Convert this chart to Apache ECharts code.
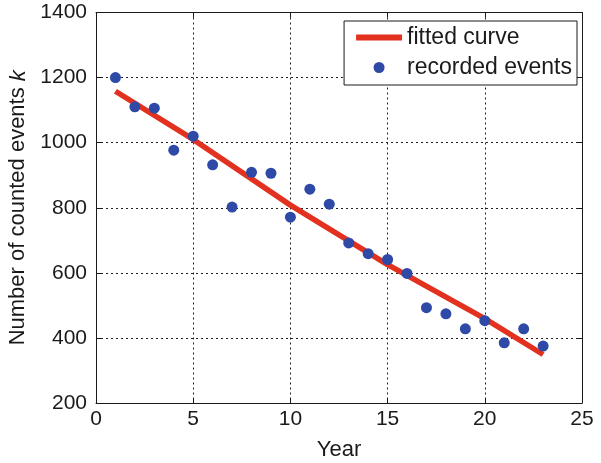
<!DOCTYPE html>
<html>
<head>
<meta charset="utf-8">
<script src="https://cdn.jsdelivr.net/npm/echarts@6/dist/echarts.min.js"></script>
<style>
  html, body { margin: 0; padding: 0; background: #fff; }
  #chart { width: 601px; height: 463px; }
</style>
</head>
<body>
<div id="chart"></div>
<script>
// Recorded yearly event counts
const years = [1, 2, 3, 4, 5, 6, 7, 8, 9, 10, 11, 12, 13, 14, 15, 16, 17, 18, 19, 20, 21, 22, 23];
const recordedEvents = [1200, 1110, 1106, 977, 1020, 932, 802, 909, 906, 771, 857, 811,
                        692, 659, 641, 598, 493, 474, 428, 453, 385, 428, 375];

// Fitted curve, sampled at a few years
const fitYears = [1, 5, 10, 15, 20, 23];
const fitValues = [1158, 1010, 808, 625, 459, 349];

// Axis ranges
const xTicks = { min: 0, max: 25, interval: 5 };
const yTicks = { min: 200, max: 1400, interval: 200 };

const FONT = '"Liberation Sans", Arial, Helvetica, sans-serif';
const INK = '#1a1a1a';
const RED = '#e2321f';
const BLUE = '#2e49a6';

const chart = echarts.init(document.getElementById('chart'), null, { renderer: 'canvas' });

// Unlabelled axes closing the frame on the top and right
const frameAxis = {
  type: 'value',
  axisLine: { show: true, onZero: false, lineStyle: { color: INK, width: 1 } },
  axisTick: { show: true, inside: true, length: 5, lineStyle: { color: INK, width: 1 } },
  axisLabel: { show: false },
  splitLine: { show: false }
};

const gridLine = { show: true, lineStyle: { color: '#222', type: [2, 3], width: 1 } };

chart.setOption({
  animation: false,
  backgroundColor: '#ffffff',
  textStyle: { fontFamily: FONT },
  grid: { left: 96, right: 19, top: 12.5, bottom: 60, containLabel: false, outerBoundsMode: 'none' },
  legend: {
    right: 24,
    top: 21,
    orient: 'vertical',
    align: 'left',
    backgroundColor: '#ffffff',
    borderColor: INK,
    borderWidth: 1,
    borderRadius: 0,
    padding: [5, 5, 6, 9],
    itemWidth: 46,
    itemHeight: 11,
    itemGap: 7,
    itemTextGap: 5,
    textStyle: { fontFamily: FONT, fontSize: 23, lineHeight: 23, color: INK },
    data: [
      {
        name: 'fitted curve',
        lineStyle: { width: 6, color: RED, cap: 'butt' },
        itemStyle: { color: 'rgba(0,0,0,0)', borderWidth: 0 }
      },
      { name: 'recorded events', icon: 'circle', itemStyle: { color: BLUE } }
    ]
  },
  xAxis: [
    {
      type: 'value',
      min: xTicks.min, max: xTicks.max, interval: xTicks.interval,
      position: 'bottom',
      name: 'Year',
      nameLocation: 'middle',
      nameGap: 36,
      nameTextStyle: { fontFamily: FONT, fontSize: 22, color: INK },
      axisLine: { show: true, onZero: false, lineStyle: { color: INK, width: 1 } },
      axisTick: { show: true, inside: true, length: 5, lineStyle: { color: INK } },
      axisLabel: { fontFamily: FONT, fontSize: 21, color: INK, margin: 6, formatter: v => String(v) },
      splitLine: gridLine
    },
    Object.assign({}, frameAxis, {
      min: xTicks.min, max: xTicks.max, interval: xTicks.interval, position: 'top'
    })
  ],
  yAxis: [
    {
      type: 'value',
      min: yTicks.min, max: yTicks.max, interval: yTicks.interval,
      position: 'left',
      name: 'Number of counted events {i|k}',
      nameLocation: 'middle',
      nameGap: 64,
      nameRotate: 90,
      nameTextStyle: {
        fontFamily: FONT, fontSize: 22, color: INK,
        rich: { i: { fontFamily: FONT, fontSize: 22, fontStyle: 'italic', color: INK } }
      },
      axisLine: { show: true, onZero: false, lineStyle: { color: INK, width: 1 } },
      axisTick: { show: true, inside: true, length: 5, lineStyle: { color: INK } },
      axisLabel: { fontFamily: FONT, fontSize: 21, color: INK, margin: 9, formatter: v => String(v) },
      splitLine: gridLine
    },
    Object.assign({}, frameAxis, {
      min: yTicks.min, max: yTicks.max, interval: yTicks.interval, position: 'right'
    })
  ],
  series: [
    {
      name: 'fitted curve',
      type: 'line',
      data: fitYears.map((x, i) => [x, fitValues[i]]),
      showSymbol: false,
      symbol: 'none',
      smooth: false,
      lineStyle: { color: RED, width: 5.5, cap: 'butt' },
      itemStyle: { color: RED },
      z: 2
    },
    {
      name: 'recorded events',
      type: 'scatter',
      data: years.map((x, i) => [x, recordedEvents[i]]),
      symbol: 'circle',
      symbolSize: 11,
      itemStyle: { color: BLUE, opacity: 1 },
      z: 3
    }
  ]
});
</script>
</body>
</html>
